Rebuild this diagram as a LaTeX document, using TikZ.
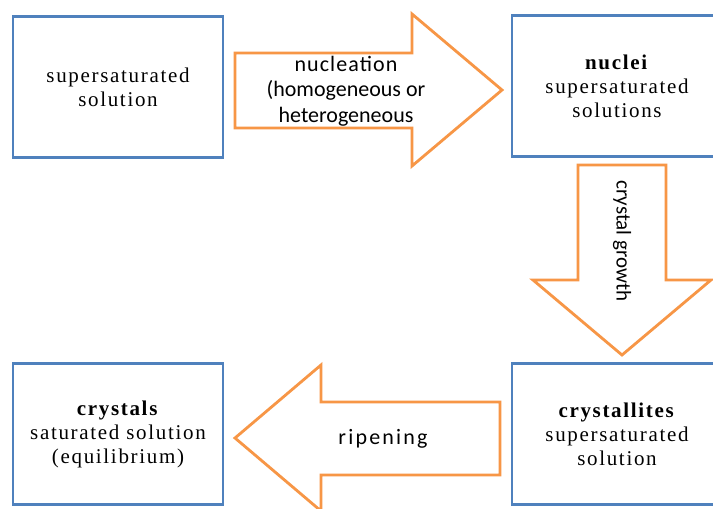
\documentclass[tikz,border=0pt]{standalone}
\usepackage{fontspec}
\setmainfont{Liberation Serif}
\newfontfamily\calfont{Carlito}
\definecolor{boxblue}{HTML}{4F81BD}
\definecolor{arrorange}{HTML}{F79646}
\begin{document}
\begin{tikzpicture}[x=1pt,y=-1pt,
  box/.style={draw=boxblue,line width=2.8pt,minimum width=210pt,minimum height=141pt,inner sep=0pt,align=center,
    font=\fontsize{21}{24}\selectfont\addfontfeature{LetterSpace=8}},
  blockarrow/.style={draw=arrorange,line width=2.8pt,line join=miter,fill=white},
  alabel/.style={align=center,inner sep=0pt,font=\calfont\fontsize{22}{25.5}\selectfont}]
\useasboundingbox (0,0) rectangle (713,509);
\clip (0,0) rectangle (713,509);
\fill[white] (0,0) rectangle (713,509);
% boxes
\node[box] (sup) at (118,87) {supersaturated\\solution};
\node[box] (nuc) at (617,86) {\textbf{nuclei}\\supersaturated\\solutions};
\node[box] (cry) at (617,434) {\textbf{crystallites}\\supersaturated\\solution};
\node[box] (crs) at (118,434) {\textbf{crystals}\\saturated solution\\(equilibrium)};
% block arrows
\draw[blockarrow] (235,53) -- (412,53) -- (412,14) -- (502,90) -- (412,166) -- (412,128) -- (235,128) -- cycle;
\draw[blockarrow] (578,165) -- (666,165) -- (666,280) -- (711,280) -- (622,355) -- (533,280) -- (578,280) -- cycle;
\draw[blockarrow] (500,402) -- (321,402) -- (321,365) -- (235,438) -- (321,511) -- (321,475) -- (500,475) -- cycle;
% labels
\node[alabel] (nucl) at (346,91) {\addfontfeature{LetterSpace=5}nucleation\\(homogeneous or\\heterogeneous};
\node[alabel,rotate=-90,font=\calfont\fontsize{21}{24}\selectfont] (grow) at (622,241) {crystal growth};
\node[alabel] (ripe) at (383,439) {\addfontfeature{LetterSpace=10}ripening};
\end{tikzpicture}
\end{document}
